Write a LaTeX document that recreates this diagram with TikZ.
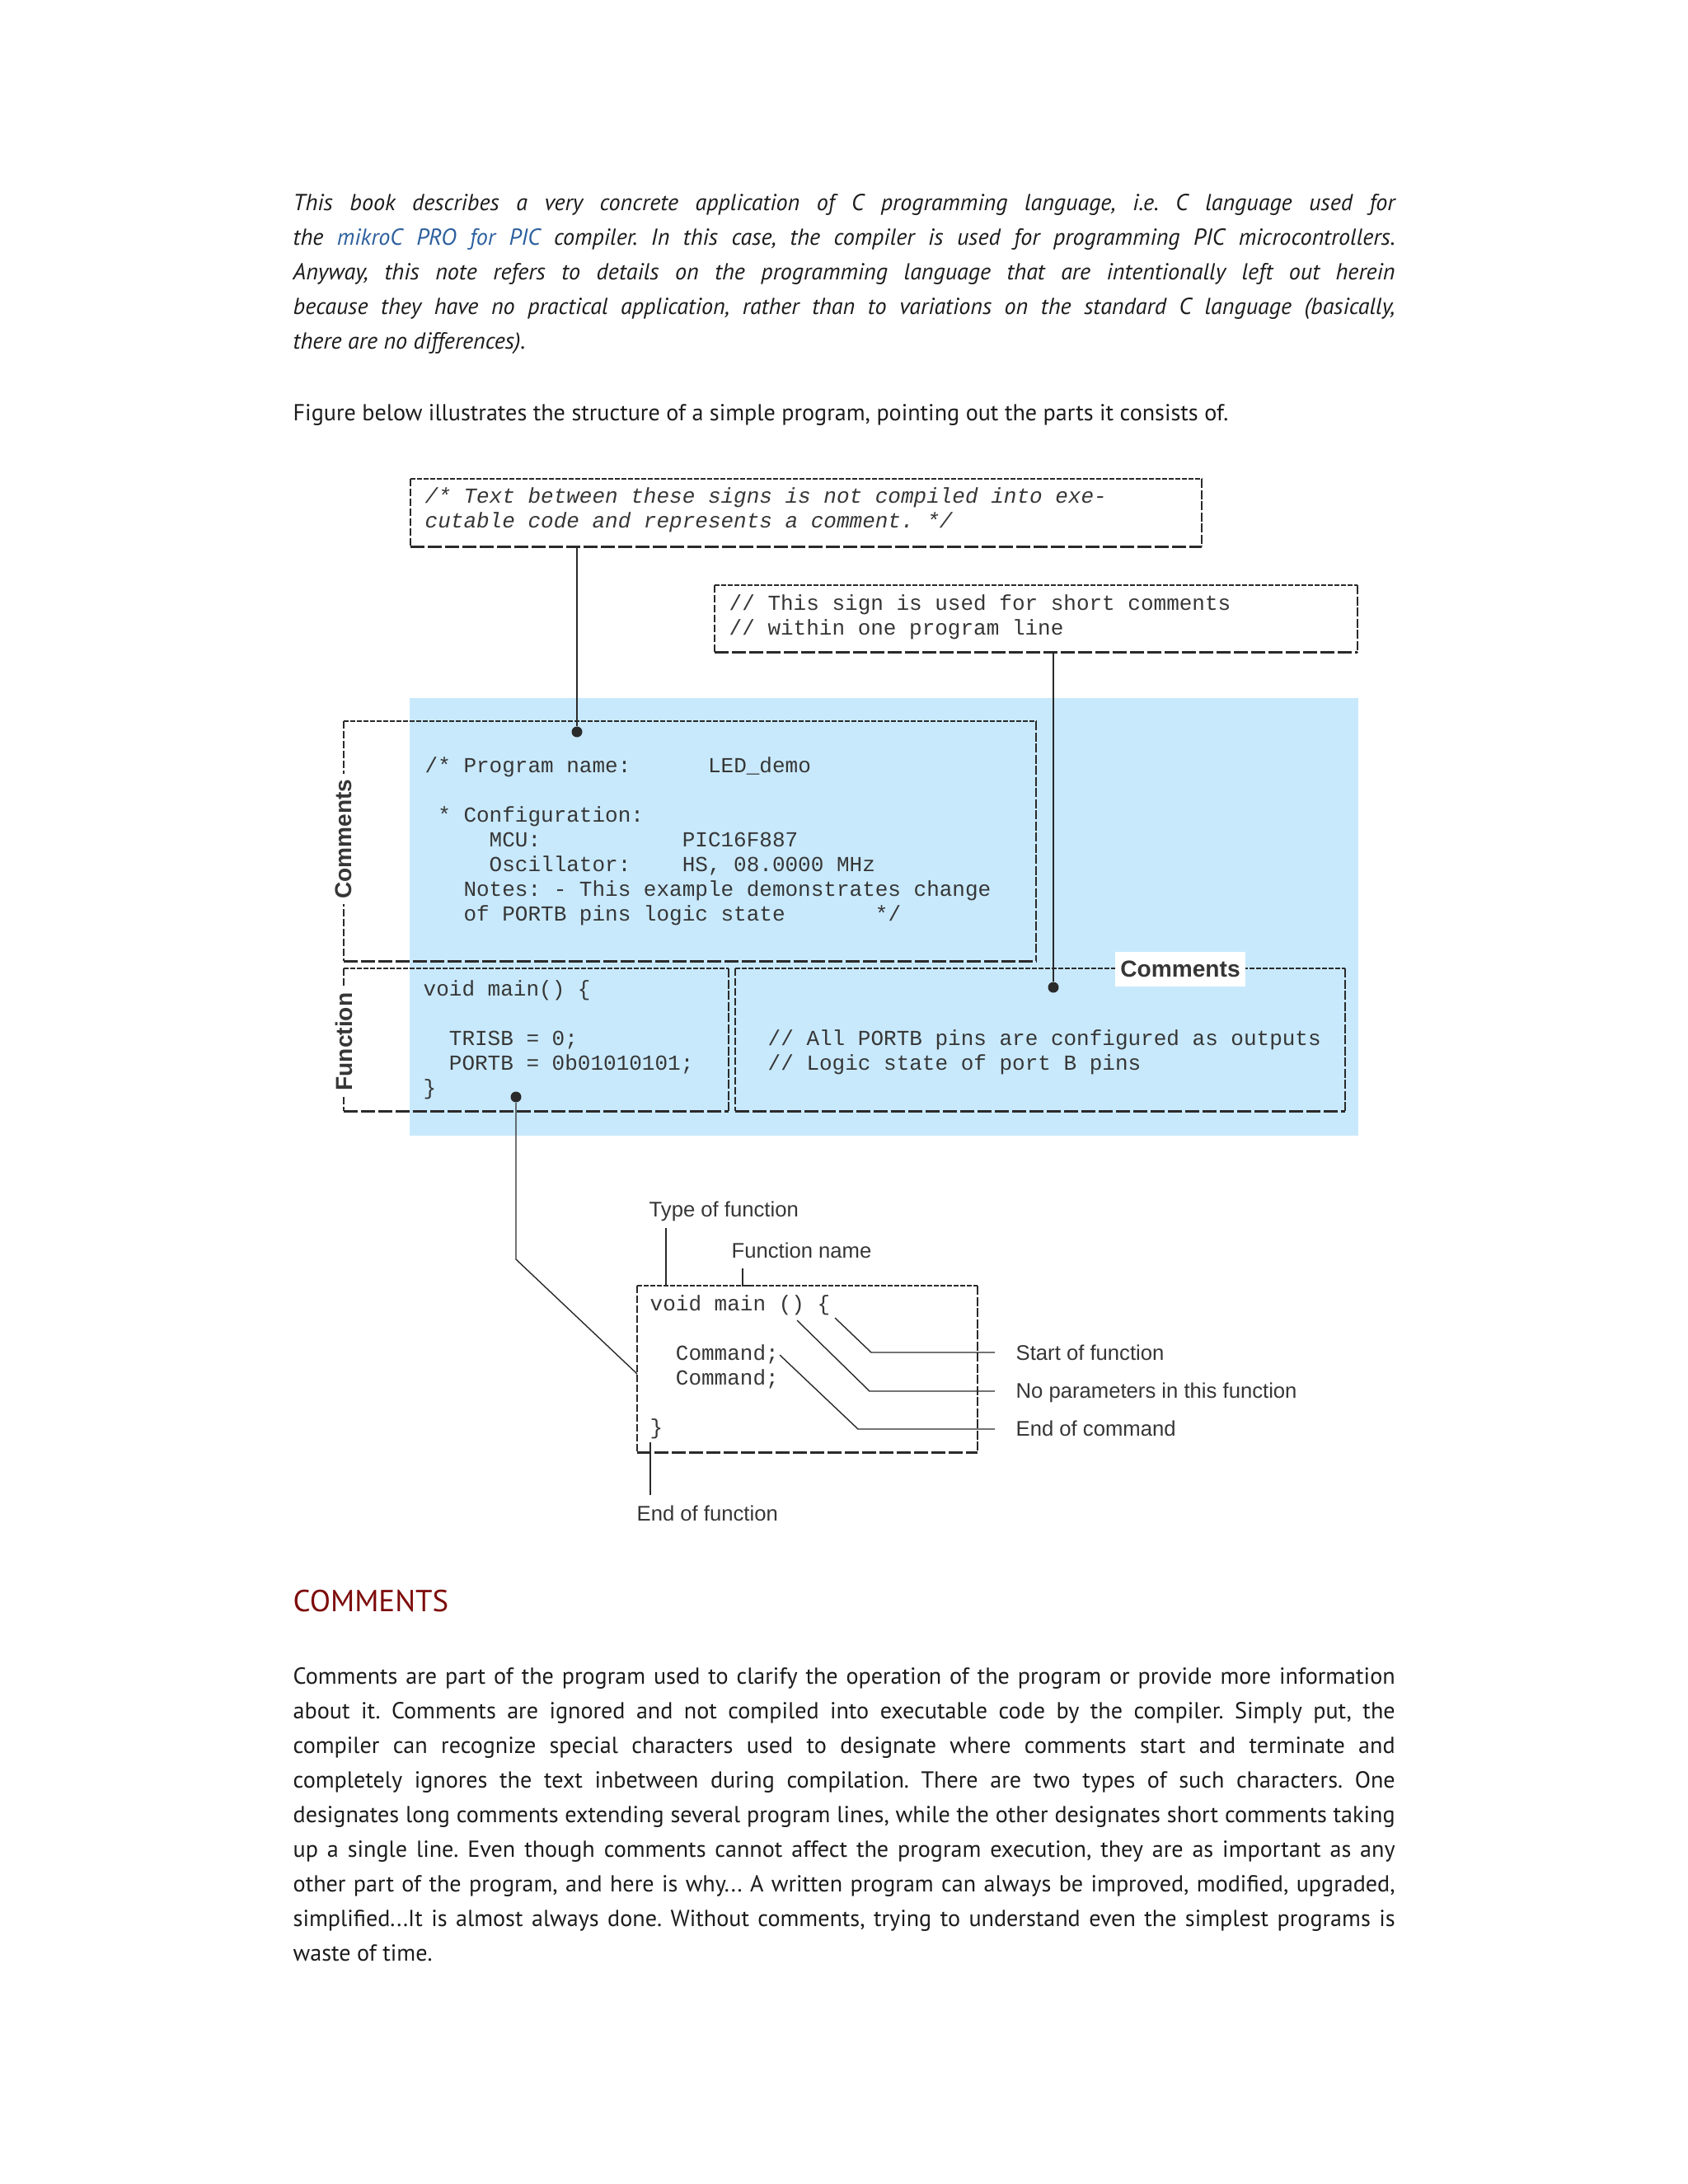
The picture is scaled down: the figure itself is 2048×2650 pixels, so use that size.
\documentclass[tikz,border=0pt]{standalone}
\usepackage{fontspec}
\setmainfont{PT Sans}
\setsansfont{Liberation Sans}
\setmonofont{Liberation Mono}
\usepackage{xcolor}
\definecolor{ink}{HTML}{1C1C1C}
\definecolor{linec}{HTML}{2A2A2A}
\definecolor{codec}{HTML}{363636}
\definecolor{skyfill}{HTML}{C8E9FC}
\definecolor{linkblue}{HTML}{2C5F9E}
\definecolor{headred}{HTML}{7D0A0A}
\usetikzlibrary{positioning}

\tolerance=10000
\hbadness=10000

\newcommand\bodyfont{\fontsize{8}{11.95}\selectfont\frenchspacing}
\newcommand\codefont{\fontsize{7.4}{8.54}\selectfont\ttfamily}
\newcommand\monospaces{\frenchspacing\spaceskip=4.44pt plus 0pt minus 0pt\relax\xspaceskip=4.44pt plus 0pt minus 0pt\relax}
\newcommand\tagfont{\sffamily\fontsize{7.3}{8.8}\selectfont}
\newcommand\capfont{\sffamily\bfseries\fontsize{8}{9.6}\selectfont}

\begin{document}
\begin{tikzpicture}[x=0.1mm, y=-0.1mm,
  para/.style={anchor=base west, inner sep=0, text width=133.7mm, align=justify, font=\bodyfont, text=ink},
  code/.style={anchor=base west, inner sep=0, text width=110mm, font=\codefont, text=codec, execute at begin node=\monospaces},
  boxarea/.style={rectangle, inner sep=0, anchor=north west},
  edgeN/.style={draw=linec, line width=0.2mm, dash pattern=on 0.6mm off 0.2mm},
  edgeW/.style={draw=linec, line width=0.2mm, dash pattern=on 0.9mm off 0.3mm},
  edgeS/.style={draw=linec, line width=0.3mm, dash pattern=on 1.7mm off 0.4mm},
  edgeE/.style={draw=linec, line width=0.2mm, dash pattern=on 1.1mm off 0.25mm},
  dot/.style={circle, fill=linec, inner sep=0, minimum size=1.3mm},
  conn/.style={draw=linec, line width=0.18mm},
  leader/.style={draw=linec, line width=0.14mm},
  tag/.style={anchor=base west, inner sep=0, font=\tagfont, text=codec},
  sidetag/.style={fill=white, inner xsep=0.6mm, inner ysep=0.4mm, font=\capfont, text=codec}
]
  \fill[white] (0,0) rectangle (2048,2650);
  \useasboundingbox (0,0) rectangle (2048,2650);

  % page text above the figure
  \node[para] (introPar) at (355,255) {\itshape This book describes a very concrete application of C programming language, i.e. C language used for\linebreak
    the \textcolor{linkblue}{mikroC PRO for PIC} compiler. In this case, the compiler is used for programming PIC microcontrollers.\linebreak
    Anyway, this note refers to details on the programming language that are intentionally left out herein\linebreak
    because they have no practical application, rather than to variations on the standard C language (basically,\linebreak
    there are no differences).};
  \node[para] (figPar) at (355,510) {Figure below illustrates the structure of a simple program, pointing out the parts it consists of.};

  % blue program area
  \fill[skyfill] (497,847) rectangle (1648,1378);

  % dashed boxes
  \foreach \nm/\xa/\ya/\xb/\yb in {cmtA/498/581/1457/662, cmtB/867/710/1646/790,
      cmtLong/417/875/1256/1165, fnBox/417/1175/883/1347,
      cmtRight/892/1175/1631/1347, exBox/773/1560/1185/1761}
    \node[boxarea, minimum width={(\xb-\xa)*0.1mm}, minimum height={(\yb-\ya)*0.1mm}] (\nm) at (\xa,\ya) {};
  \foreach \nm in {cmtA, cmtB, cmtLong, fnBox, cmtRight, exBox} {
    \draw[edgeN] (\nm.north west) -- (\nm.north east);
    \draw[edgeW] (\nm.north west) -- (\nm.south west);
    \draw[edgeS] (\nm.south west) -- (\nm.south east);
    \draw[edgeE] (\nm.north east) -- (\nm.south east);
  }

  % code
  \node[code, font=\codefont\itshape] (cmtAtxt) at (515,610) {/* Text between these signs is not compiled into exe-\\cutable code and represents a comment. */};
  \node[code] (cmtBtxt) at (884,740) {// This sign is used for short comments\\// within one program line};
  \node[code] (longTxt) at (515,937) {/* Program name:~~~~~~LED\_demo\\~\\~* Configuration:\\~~~~~MCU:~~~~~~~~~~~PIC16F887\\~~~~~Oscillator:~~~~HS, 08.0000 MHz\\~~~Notes: - This example demonstrates change\\~~~of PORTB pins logic state~~~~~~~*/};
  \node[code] (fnTxt) at (513,1208) {void main() \{\\~\\~~TRISB = 0;\\~~PORTB = 0b01010101;\\\}};
  \node[code] (rightTxt) at (931,1268) {// All PORTB pins are configured as outputs\\// Logic state of port B pins};
  \node[code] (exTxt) at (788,1590) {void main () \{\\~\\~~Command;\\~~Command;\\~\\\}};

  % side labels
  \node[sidetag, rotate=90] (tagCmtV) at (417,1018) {Comments};
  \node[sidetag, rotate=90] (tagFnV) at (417,1264) {Function};
  \node[sidetag, inner xsep=0.65mm, inner ysep=1.1mm] (tagCmtH) at (1432,1176) {Comments};

  % pointers into the program
  \node[dot] (dotA) at (700,888) {};
  \node[dot] (dotB) at (1278,1198) {};
  \node[dot] (dotC) at (626,1331) {};
  \draw[conn] (dotA) -- (dotA |- cmtA.south);
  \draw[conn] (dotB) -- (dotB |- cmtB.south);
  \coordinate (kinkC) at (626,1528);
  \coordinate (hitC) at (773,1667);
  \draw[leader] (dotC) -- (kinkC) -- (hitC);

  % function anatomy
  \node[tag] (tagType) at (787,1476) {Type of function};
  \node[tag] (tagName) at (887,1526) {Function name};
  \node[tag] (tagStart) at (1232,1650) {Start of function};
  \node[tag] (tagNoPar) at (1232,1696) {No parameters in this function};
  \node[tag] (tagEndCmd) at (1232,1742) {End of command};
  \node[tag] (tagEndFn) at (772,1845) {End of function};

  \coordinate (typeTop) at (808,1490);
  \draw[leader] (typeTop) -- (typeTop |- exBox.north);
  \coordinate (nameTop) at (901,1539);
  \draw[leader] (nameTop) -- (nameTop |- exBox.north) -- ++(12,0);
  \coordinate (eofTop) at (789,1750);
  \draw[leader, shorten >=1.2mm] (eofTop) -- (eofTop |- tagEndFn.north);

  \coordinate (braceTip) at (1013,1599);
  \coordinate (braceKink) at (1057,1641);
  \coordinate (parenTip) at (967,1602);
  \coordinate (parenKink) at (1055,1688);
  \coordinate (semiTip) at (946,1644);
  \coordinate (semiKink) at (1041,1734);
  \draw[leader] (braceTip) -- (braceKink) -- ([xshift=-2.5mm]braceKink -| tagStart.west);
  \draw[leader] (parenTip) -- (parenKink) -- ([xshift=-2.5mm]parenKink -| tagNoPar.west);
  \draw[leader] (semiTip) -- (semiKink) -- ([xshift=-2.5mm]semiKink -| tagEndCmd.west);

  % page text below the figure
  \node[anchor=base west, inner sep=0, font=\fontsize{10.5}{12.6}\selectfont, text=headred] (headCmt) at (355,1955) {COMMENTS};
  \node[para] (cmtPar) at (355,2043) {Comments are part of the program used to clarify the operation of the program or provide more information\linebreak
    about it. Comments are ignored and not compiled into executable code by the compiler. Simply put, the\linebreak
    compiler can recognize special characters used to designate where comments start and terminate and\linebreak
    completely ignores the text inbetween during compilation. There are two types of such characters. One\linebreak
    designates long comments extending several program lines, while the other designates short comments taking\linebreak
    up a single line. Even though comments cannot affect the program execution, they are as important as any\linebreak
    other part of the program, and here is why... A written program can always be improved, modified, upgraded,\linebreak
    simplified...It is almost always done. Without comments, trying to understand even the simplest programs is\linebreak
    waste of time.};
\end{tikzpicture}
\end{document}
